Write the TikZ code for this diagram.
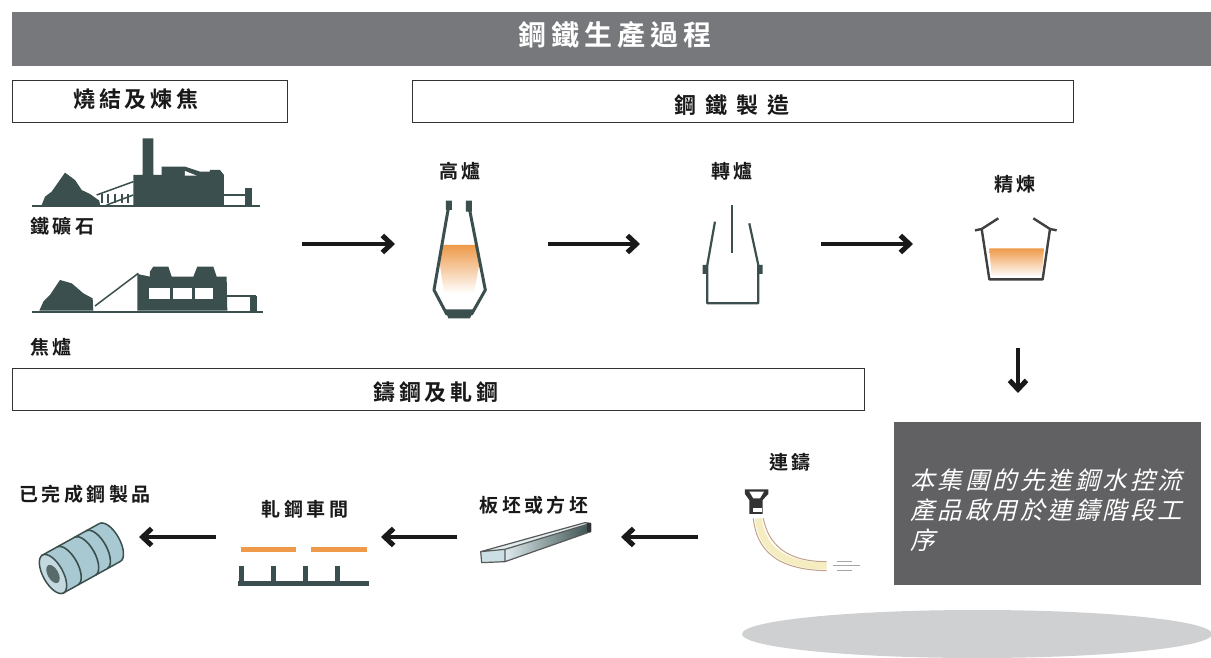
\documentclass[tikz,border=0pt]{standalone}
\usepackage{fontspec}
\usepackage{xcolor}
\usetikzlibrary{arrows.meta}
\newfontfamily\cjkbold[BoldFont={* Bold},LetterSpace=18]{Noto Sans CJK TC}
\newfontfamily\cjkwide[BoldFont={* Bold},LetterSpace=40]{Noto Sans CJK TC}
\newfontfamily\cjkslant[FakeSlant=0.25,LetterSpace=12]{Noto Sans CJK TC}
\definecolor{palet1}{HTML}{77787B}
\definecolor{palet2}{HTML}{616163}
\definecolor{palet3}{HTML}{CFD0D2}
\definecolor{palet4}{HTML}{3B504E}
\definecolor{palet5}{HTML}{EE9A4A}
\definecolor{palet6}{HTML}{A9C9D2}
\definecolor{palet7}{HTML}{F5EDC0}
\colorlet{cbanner}{palet1}
\colorlet{cnote}{palet2}
\colorlet{cdisc}{palet3}
\colorlet{cplant}{palet4}
\colorlet{cmelt}{palet5}
\colorlet{ccoil}{palet6}
\colorlet{cstrand}{palet7}
\tikzset{
  stage/.style={draw=black!80, line width=1pt, fill=white, anchor=north west, inner sep=0pt},
  stagetext/.style={font=\cjkbold\bfseries\fontsize{22}{24}\selectfont, text=black!90},
  steptext/.style={font=\cjkbold\bfseries\fontsize{19}{21}\selectfont, text=black!90},
  flow/.style={line width=4.5pt, black!90, -{Straight Barb[length=9pt,width=17pt,line width=5pt]}},
  wall/.style={draw=cplant, line width=3pt, line join=round}
}
\begin{document}
\begin{tikzpicture}[x=1pt,y=-1pt]
  \useasboundingbox (0,0) rectangle (1211,658);
  \fill[white] (0,0) rectangle (1211,658);

  \path
  (12,12) node[fill=cbanner, anchor=north west, minimum width=1199pt, minimum height=54pt, inner sep=0pt] (banner) {}
  (615,35) node[font=\cjkbold\bfseries\fontsize{28}{30}\selectfont, text=white] (title) {鋼鐵生產過程}
  (12,80) node[stage, minimum width=275pt, minimum height=42pt] (sinterbox) {}
  (136,99) node[stagetext] (sintertext) {燒結及煉焦}
  (412,80) node[stage, minimum width=661pt, minimum height=42pt] (steelbox) {}
  (732,105) node[font=\cjkwide\bfseries\fontsize{22}{24}\selectfont, text=black!90] (steeltext) {鋼鐵製造}
  (12,368) node[stage, minimum width=852pt, minimum height=42pt] (rollbox) {}
  (436,392) node[stagetext] (rolltext) {鑄鋼及軋鋼}
  (27,226) node[steptext, anchor=west] (oretext) {鐵礦石}
  (27,347) node[steptext, anchor=west] (coketext) {焦爐}
  (460,171) node[steptext] (furnacetext) {高爐}
  (732,171) node[steptext] (convertertext) {轉爐}
  (1015,184) node[steptext] (refinetext) {精煉}
  (790,462) node[steptext] (castertext) {連鑄}
  (534,505) node[steptext] (slabtext) {板坯或方坯}
  (305,509) node[steptext] (milltext) {軋鋼車間}
  (85,494) node[steptext] (producttext) {已完成鋼製品}
  (894,422) node[fill=cnote, anchor=north west, minimum width=307pt, minimum height=163pt, inner sep=0pt] (note) {}
  (907,510) node[anchor=west, text=white, align=left, font=\cjkslant\fontsize{24.5}{30}\selectfont] (notetext) {本集團的先進鋼水控流\\產品啟用於連鑄階段工\\序}
  ;
  \fill[cdisc] (977,634) ellipse[x radius=235, y radius=24];

  \coordinate (ina) at (302,244);
  \coordinate (outa) at (395,244);
  \coordinate (inb) at (548,244);
  \coordinate (outb) at (640,244);
  \coordinate (inc) at (821,244);
  \coordinate (outc) at (913,244);
  \coordinate (ind) at (1018,348);
  \coordinate (outd) at (1018,393);
  \coordinate (ine) at (698,537);
  \coordinate (oute) at (621,537);
  \coordinate (inf) at (457,537);
  \coordinate (outf) at (381,537);
  \coordinate (ing) at (216,537);
  \coordinate (outg) at (139,537);
  \foreach \from/\to in {ina/outa,inb/outb,inc/outc,ind/outd,ine/oute,inf/outf,ing/outg}
    \draw[flow] (\from) -- (\to);

  % ore plant
  \begin{scope}[shift={(0,70)},x=.3333pt,y=-.3333pt]
    \draw[cplant, line width=2pt] (95,407) -- (780,407);
    \fill[cplant] (125,405) -- (135,380) -- (155,365) -- (195,308) -- (225,330) -- (245,360) -- (270,372) -- (298,392) -- (300,405) -- cycle;
    \draw[cplant, line width=1.5pt] (290,375) -- (400,335) (320,405) -- (400,375);
    \foreach \xr in {305,325,345,365,385}
      \draw[cplant, line width=2pt] (\xr,372) -- (\xr,398);
    \fill[cplant] (400,405) -- (400,315) -- (428,315) -- (428,205) -- (460,205) -- (460,315) -- (485,315) -- (485,290) -- (555,290) -- (600,305) -- (630,305) -- (630,300) -- (660,300) -- (672,315) -- (672,405) -- cycle;
    \fill[white] (555,303) -- (590,317) -- (555,317) -- cycle;
    \draw[cplant, line width=1.5pt] (672,375) -- (735,375);
    \fill[cplant] (735,355) rectangle (755,405);
  \end{scope}

  % coke ovens
  \begin{scope}[shift={(0,70)},x=.3333pt,y=-.3333pt]
    \draw[cplant, line width=2pt] (95,725) -- (790,725);
    \fill[cplant] (118,722) -- (130,695) -- (150,675) -- (180,630) -- (215,640) -- (250,670) -- (278,685) -- (280,722) -- cycle;
    \draw[cplant, line width=1.5pt] (285,708) -- (415,610);
    \fill[cplant] (412,722) -- (412,612) -- (450,620) -- (450,605) -- (460,590) -- (505,590) -- (515,620) -- (580,620) -- (592,590) -- (640,590) -- (650,620) -- (680,620) -- (682,722) -- cycle;
    \fill[white] (448,655) rectangle (510,686);
    \fill[white] (518,655) rectangle (575,686);
    \fill[white] (585,655) rectangle (640,686);
    \draw[cplant, line width=1.5pt] (682,678) -- (766,678) -- (766,722);
    \fill[cplant] (750,678) rectangle (770,722);
  \end{scope}

  % blast furnace
  \begin{scope}[shift={(400,150)},x=.3333pt,y=-.3333pt]
    \shade[top color=cmelt, bottom color=white] (125,285) -- (232,285) -- (240,330) -- (222,430) -- (132,430) -- (118,330) -- cycle;
    \draw[wall] (145,175) -- (102,420) -- (140,492) -- (215,492) -- (256,420) -- (208,175);
    \fill[cplant] (138,152) rectangle (156,180) (198,152) rectangle (216,185);
    \fill[cplant] (135,478) -- (222,478) -- (210,505) -- (145,505) -- cycle;
  \end{scope}

  % converter
  \begin{scope}[shift={(400,150)},x=.3333pt,y=-.3333pt]
    \draw[cplant, line width=2.5pt] (996,165) -- (996,310);
    \draw[cplant, line width=2.2pt, line join=round] (945,215) -- (922,345) -- (922,460) -- (1075,460) -- (1075,345) -- (1048,220);
    \fill[cplant] (908,345) rectangle (922,372) (1075,345) rectangle (1088,372);
  \end{scope}

  % ladle
  \begin{scope}[shift={(950,160)},x=.3333pt,y=-.3333pt]
    \shade[top color=cmelt, bottom color=white] (118,265) -- (282,265) -- (275,350) -- (125,350) -- cycle;
    \draw[black!75, line width=2.4pt, line join=round] (145,175) -- (95,207) -- (118,358) -- (278,358) -- (300,207) -- (250,175);
    \draw[black!75, line width=2.4pt] (75,211) -- (95,207) (300,207) -- (320,211);
  \end{scope}

  % rolled coil
  \begin{scope}[shift={(53,574)},x=.3333pt,y=.3333pt,rotate=29]
    \fill[ccoil, draw=cplant, line width=1.5pt] (0,65) -- (195,65) arc[start angle=90, end angle=-90, x radius=30, y radius=65] -- (0,-65) -- cycle;
    \foreach \xb in {50,110,150}
      \draw[cplant, line width=1.6pt] (\xb,-65) arc[start angle=-90, end angle=90, x radius=30, y radius=65];
    \fill[ccoil!70!white, draw=cplant, line width=1.5pt] (0,0) ellipse[x radius=30, y radius=65];
    \fill[cplant!85] (0,0) ellipse[x radius=16, y radius=30];
  \end{scope}

  % rolling mill
  \begin{scope}[shift={(0,470)},x=.3333pt,y=-.3333pt]
    \draw[cmelt, line width=5pt] (722,240) -- (888,240) (933,240) -- (1100,240);
    \draw[cplant, line width=5pt] (715,342) -- (1108,342);
    \foreach \xs in {725,820,916,1014}
      \draw[cplant, line width=5pt] (\xs,288) -- (\xs,342);
  \end{scope}

  % slab
  \begin{scope}[shift={(460,440)},x=.3333pt,y=-.3333pt]
    \shade[left color=ccoil!40!white, right color=cplant] (135,328) -- (392,250) -- (392,275) -- (135,365) -- cycle;
    \fill[ccoil!35!white] (62,335) -- (375,248) -- (392,250) -- (135,328) -- cycle;
    \fill[ccoil!60!white] (62,335) -- (135,328) -- (135,365) -- (65,368) -- cycle;
    \draw[black!65, line width=1.2pt, line join=round] (65,368) -- (62,335) -- (375,248) -- (392,250) -- (392,275) -- (135,365) -- cycle (62,335) -- (135,328) -- (392,250) (135,328) -- (135,365);
    \fill[black!80] (380,250) rectangle (392,275);
  \end{scope}

  % caster
  \begin{scope}[shift={(460,440)},x=.3333pt,y=-.3333pt]
    \draw[cstrand, line width=7pt] (895,235) .. controls (905,320) and (960,378) .. (1100,378);
    \draw[black!35!cmelt!60!white, line width=1pt] (880,235) .. controls (890,330) and (950,390) .. (1100,392);
    \draw[black!35!cmelt!60!white, line width=1pt] (910,235) .. controls (925,310) and (975,365) .. (1100,365);
    \draw[black!35, line width=1pt] (1130,365) -- (1175,365) (1130,392) -- (1175,392) (1120,378) -- (1200,378);
    \fill[black!80] (855,148) -- (925,148) -- (925,162) -- (908,180) -- (908,222) -- (868,222) -- (868,180) -- (855,162) -- cycle;
    \fill[white] (868,155) -- (912,155) -- (900,175) -- (880,175) -- cycle;
    \fill[white] (880,205) rectangle (905,215);
  \end{scope}
\end{tikzpicture}
\end{document}
